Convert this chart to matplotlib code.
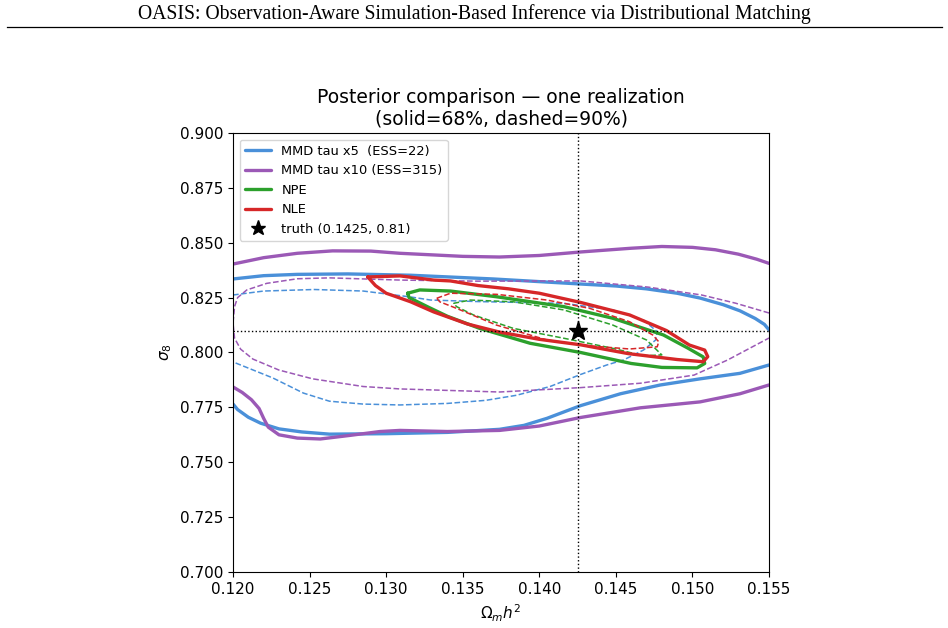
import matplotlib
matplotlib.use("Agg")
import matplotlib.pyplot as plt
from matplotlib.lines import Line2D

# truth
truth = (0.1425, 0.81)

# MMD tau x5 -- 68% contour (two branches clipped by the axes)
mmd5_68_top_x = [0.1200, 0.1220, 0.1242, 0.1275, 0.1316, 0.1370, 0.1427, 0.1450, 0.1470, 0.1490, 0.1505, 0.1520, 0.1531, 0.1541, 0.1547, 0.1550]
mmd5_68_top_y = [0.8335, 0.8350, 0.8356, 0.8358, 0.8352, 0.8335, 0.8312, 0.8303, 0.8290, 0.8270, 0.8248, 0.8218, 0.8190, 0.8155, 0.8128, 0.8103]
mmd5_68_bot_x = [0.1200, 0.1203, 0.1210, 0.1218, 0.1230, 0.1245, 0.1263, 0.1300, 0.1340, 0.1374, 0.1390, 0.1405, 0.1427, 0.1453, 0.1479, 0.1505, 0.1531, 0.1550]
mmd5_68_bot_y = [0.7765, 0.7740, 0.7705, 0.7678, 0.7652, 0.7638, 0.7628, 0.7630, 0.7636, 0.7650, 0.7668, 0.7700, 0.7758, 0.7812, 0.7852, 0.7880, 0.7905, 0.7943]

# MMD tau x5 -- 90% contour
mmd5_90_x = [0.1200, 0.1220, 0.1253, 0.1285, 0.1316, 0.1329, 0.1360, 0.1416, 0.1448, 0.1468, 0.1477, 0.1476,
             0.1468, 0.1455, 0.1444, 0.1427, 0.1407, 0.1385, 0.1365, 0.1340, 0.1309, 0.1285, 0.1263, 0.1246, 0.1226, 0.1200]
mmd5_90_y = [0.8262, 0.8280, 0.8287, 0.8280, 0.8253, 0.8239, 0.8232, 0.8224, 0.8194, 0.8148, 0.8095, 0.8057,
             0.8011, 0.7966, 0.7943, 0.7900, 0.7845, 0.7805, 0.7782, 0.7768, 0.7761, 0.7765, 0.7778, 0.7815, 0.7884, 0.7957]

# MMD tau x10 -- 68% contour
mmd10_68_top_x = [0.1200, 0.1220, 0.1242, 0.1265, 0.1290, 0.1309, 0.1350, 0.1374, 0.1400, 0.1427, 0.1460, 0.1480, 0.1500, 0.1515, 0.1530, 0.1542, 0.1550]
mmd10_68_top_y = [0.8403, 0.8432, 0.8452, 0.8463, 0.8462, 0.8452, 0.8438, 0.8435, 0.8442, 0.8458, 0.8475, 0.8483, 0.8479, 0.8468, 0.8448, 0.8425, 0.8406]
mmd10_68_bot_x = [0.1200, 0.1206, 0.1212, 0.1217, 0.1220, 0.1223, 0.1230, 0.1242, 0.1257, 0.1276, 0.1296, 0.1309, 0.1340, 0.1374, 0.1400, 0.1427, 0.1466, 0.1505, 0.1531, 0.1550]
mmd10_68_bot_y = [0.7843, 0.7818, 0.7785, 0.7745, 0.7700, 0.7660, 0.7625, 0.7610, 0.7606, 0.7622, 0.7640, 0.7645, 0.7640, 0.7645, 0.7665, 0.7704, 0.7748, 0.7775, 0.7812, 0.7852]

# MMD tau x10 -- 90% contour
mmd10_90_x = [0.1550, 0.1528, 0.1506, 0.1471, 0.1427, 0.1360, 0.1309, 0.1263, 0.1242, 0.1222, 0.1209, 0.1203,
              0.1201, 0.1200, 0.1201, 0.1205, 0.1213, 0.1230, 0.1252, 0.1285, 0.1309, 0.1374, 0.1427, 0.1466, 0.1501, 0.1523, 0.1550]
mmd10_90_y = [0.8180, 0.8225, 0.8262, 0.8298, 0.8326, 0.8325, 0.8330, 0.8340, 0.8336, 0.8315, 0.8285, 0.8250,
              0.8209, 0.8134, 0.8065, 0.8015, 0.7970, 0.7920, 0.7880, 0.7845, 0.7834, 0.7820, 0.7840, 0.7860, 0.7897, 0.7966, 0.8066]

# NPE contours
npe_68_x = [0.1314, 0.1322, 0.1342, 0.1372, 0.1416, 0.1448, 0.1481, 0.1497, 0.1507, 0.1508, 0.1503, 0.1480,
            0.1460, 0.1427, 0.1394, 0.1361, 0.1340, 0.1328, 0.1315, 0.1314]
npe_68_y = [0.8270, 0.8285, 0.8280, 0.8254, 0.8209, 0.8156, 0.8080, 0.8020, 0.7980, 0.7950, 0.7930, 0.7932,
            0.7950, 0.8000, 0.8042, 0.8110, 0.8165, 0.8205, 0.8250, 0.8270]
npe_90_x = [0.1344, 0.1355, 0.1383, 0.1416, 0.1448, 0.1470, 0.1480, 0.1468, 0.1448, 0.1416, 0.1383, 0.1357, 0.1346, 0.1344]
npe_90_y = [0.8224, 0.8239, 0.8231, 0.8194, 0.8125, 0.8057, 0.7989, 0.7985, 0.8019, 0.8065, 0.8110, 0.8171, 0.8209, 0.8224]

# NLE contours
nle_68_x = [0.1288, 0.1309, 0.1331, 0.1342, 0.1360, 0.1380, 0.1400, 0.1427, 0.1459, 0.1483, 0.1498, 0.1508, 0.1510,
            0.1507, 0.1490, 0.1458, 0.1427, 0.1400, 0.1374, 0.1353, 0.1331, 0.1316, 0.1305, 0.1300, 0.1293, 0.1288]
nle_68_y = [0.8344, 0.8349, 0.8330, 0.8326, 0.8305, 0.8290, 0.8270, 0.8228, 0.8171, 0.8100, 0.8034, 0.8011, 0.7981,
            0.7958, 0.7968, 0.7995, 0.8035, 0.8060, 0.8093, 0.8130, 0.8185, 0.8231, 0.8258, 0.8270, 0.8305, 0.8344]
nle_90_x = [0.1333, 0.1342, 0.1372, 0.1405, 0.1433, 0.1459, 0.1474, 0.1478, 0.1477, 0.1459, 0.1433, 0.1405, 0.1372, 0.1346, 0.1335, 0.1333]
nle_90_y = [0.8247, 0.8270, 0.8265, 0.8239, 0.8201, 0.8140, 0.8080, 0.8049, 0.8026, 0.8016, 0.8030, 0.8057, 0.8125, 0.8201, 0.8231, 0.8247]

c_mmd5 = "#4a90d9"
c_mmd10 = "#9b59b6"
c_npe = "#2ca02c"
c_nle = "#d62728"

fig = plt.figure(figsize=(9.48, 6.28), dpi=100)
ax = fig.add_axes([0.2458, 0.0892, 0.5654, 0.699])

# page header
fig.text(0.5, 0.978, "OASIS: Observation-Aware Simulation-Based Inference via Distributional Matching",
         ha="center", va="center", family="Liberation Serif", fontsize=14.2)
fig.add_artist(Line2D([0.007, 0.994], [0.957, 0.957], color="black", lw=0.9, transform=fig.transFigure))

solid = 2.4
dashed = 1.1
kw = dict(solid_joinstyle="round", solid_capstyle="round")
ax.plot(mmd5_68_top_x, mmd5_68_top_y, color=c_mmd5, lw=solid, label="MMD tau x5  (ESS=22)", **kw)
ax.plot(mmd5_68_bot_x, mmd5_68_bot_y, color=c_mmd5, lw=solid, **kw)
ax.plot(mmd5_90_x, mmd5_90_y, color=c_mmd5, lw=dashed, ls="--")
ax.plot(mmd10_68_top_x, mmd10_68_top_y, color=c_mmd10, lw=solid, label="MMD tau x10 (ESS=315)", **kw)
ax.plot(mmd10_68_bot_x, mmd10_68_bot_y, color=c_mmd10, lw=solid, **kw)
ax.plot(mmd10_90_x, mmd10_90_y, color=c_mmd10, lw=dashed, ls="--")
ax.plot(npe_68_x, npe_68_y, color=c_npe, lw=solid, label="NPE", **kw)
ax.plot(npe_90_x, npe_90_y, color=c_npe, lw=dashed, ls="--")
ax.plot(nle_68_x, nle_68_y, color=c_nle, lw=solid, label="NLE", **kw)
ax.plot(nle_90_x, nle_90_y, color=c_nle, lw=dashed, ls="--")

ax.axvline(truth[0], color="black", ls=":", lw=1)
ax.axhline(truth[1], color="black", ls=":", lw=1)
ax.plot(truth[0], truth[1], marker="*", color="black", ms=14, ls="none",
        label="truth (0.1425, 0.81)", zorder=5)

ax.set_xlim(0.120, 0.155)
ax.set_ylim(0.700, 0.900)
ax.set_xticks([0.120, 0.125, 0.130, 0.135, 0.140, 0.145, 0.150, 0.155])
ax.set_yticks([0.700, 0.725, 0.750, 0.775, 0.800, 0.825, 0.850, 0.875, 0.900])
ax.xaxis.set_major_formatter(matplotlib.ticker.FormatStrFormatter("%.3f"))
ax.yaxis.set_major_formatter(matplotlib.ticker.FormatStrFormatter("%.3f"))
ax.tick_params(labelsize=11)
ax.set_xlabel(r"$\Omega_m h^2$", fontsize=11)
ax.set_ylabel(r"$\sigma_8$", fontsize=11)
ax.set_title("Posterior comparison — one realization\n(solid=68%, dashed=90%)", fontsize=13.5)
ax.legend(loc="upper left", fontsize=9.4, markerscale=0.8)

fig.savefig("out.png", dpi=100)
